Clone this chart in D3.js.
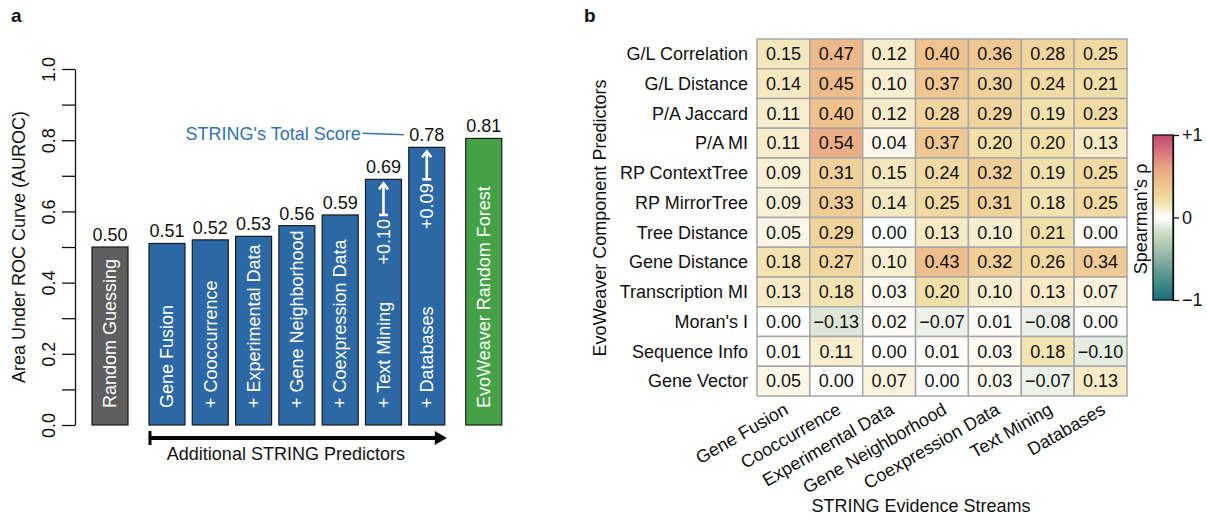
<!DOCTYPE html>
<html>
<head>
<meta charset="utf-8">
<script src="https://cdn.jsdelivr.net/npm/d3@7"></script>
<style>
body { margin: 0; background: #fff; }
text { font-family: "Liberation Sans", Arial, Helvetica, sans-serif; font-size: 18px; fill: #111; }
</style>
</head>
<body>
<svg id="fig" width="1207" height="521"></svg>
<script>
// panel a
var barLabels = ["Random Guessing", "Gene Fusion", "+ Cooccurrence", "+ Experimental Data", "+ Gene Neighborhood",
	"+ Coexpression Data", "+ Text Mining", "+ Databases", "EvoWeaver Random Forest"];
var barValues = [0.50, 0.51, 0.52, 0.53, 0.56, 0.59, 0.69, 0.78, 0.805];
var barGroups = ["baseline", "string", "string", "string", "string", "string", "string", "string", "evoweaver"];
var gainBars = ["+ Text Mining", "+ Databases"];
var gainLabels = ["+0.10", "+0.09"];
var yTicks = [0, 0.1, 0.2, 0.3, 0.4, 0.5, 0.6, 0.7, 0.8, 0.9, 1.0];
var yTickLabels = ["0.0", "", "0.2", "", "0.4", "", "0.6", "", "0.8", "", "1.0"];

// panel b
var streams = ["Gene Fusion", "Cooccurrence", "Experimental Data", "Gene Neighborhood", "Coexpression Data", "Text Mining", "Databases"];
var predictors = ["G/L Correlation", "G/L Distance", "P/A Jaccard", "P/A MI", "RP ContextTree", "RP MirrorTree",
	"Tree Distance", "Gene Distance", "Transcription MI", "Moran's I", "Sequence Info", "Gene Vector"];
var rhoValues = [
	[0.15, 0.47, 0.12, 0.40, 0.36, 0.28, 0.25],
	[0.14, 0.45, 0.10, 0.37, 0.30, 0.24, 0.21],
	[0.11, 0.40, 0.12, 0.28, 0.29, 0.19, 0.23],
	[0.11, 0.54, 0.04, 0.37, 0.20, 0.20, 0.13],
	[0.09, 0.31, 0.15, 0.24, 0.32, 0.19, 0.25],
	[0.09, 0.33, 0.14, 0.25, 0.31, 0.18, 0.25],
	[0.05, 0.29, 0.00, 0.13, 0.10, 0.21, 0.00],
	[0.18, 0.27, 0.10, 0.43, 0.32, 0.26, 0.34],
	[0.13, 0.18, 0.03, 0.20, 0.10, 0.13, 0.07],
	[0.00, -0.13, 0.02, -0.07, 0.01, -0.08, 0.00],
	[0.01, 0.11, 0.00, 0.01, 0.03, 0.18, -0.10],
	[0.05, 0.00, 0.07, 0.00, 0.03, -0.07, 0.13]
];
var legendTicks = [-1, 0, 1];
var legendTickLabels = ["\u22121", "0", "+1"];

var svg = d3.select("#fig");

svg.append("text").attr("x", 11).attr("y", 22).style("font-weight", "bold").style("font-size", "19px").text("a");
svg.append("text").attr("x", 584).attr("y", 22).style("font-weight", "bold").style("font-size", "19px").text("b");

/////// bars
var y = d3.scaleLinear().domain([0, 1]).range([425, 69]);
var slot = d3.scaleLinear().domain([0, 1]).range([92, 135.3]);
var groupOrder = ["baseline", "string", "evoweaver"];
var barColor = d3.scaleOrdinal().domain(groupOrder).range(["#5e5e5e", "#2c68a5", "#44a146"]);
var barW = 36;

function barX(i) {
	return slot(i + groupOrder.indexOf(barGroups[i]) * 0.316);
}

var yAxis = svg.append("g")
	.attr("transform", "translate(75,0)")
	.call(d3.axisLeft(y).tickValues(yTicks).tickSize(13).tickSizeOuter(0)
		.tickFormat(function(d, i) { return yTickLabels[i]; }));
yAxis.select(".domain").attr("stroke", "#111").attr("stroke-width", 1.3);
yAxis.selectAll(".tick line").attr("stroke", "#111").attr("stroke-width", 1.3);
yAxis.selectAll(".tick text")
	.attr("transform", "rotate(-90)")
	.attr("x", 0)
	.attr("y", -20)
	.attr("dy", 0)
	.attr("text-anchor", "middle")
	.style("font-size", "18px")
	.style("fill", "#111");

svg.append("text")
	.attr("transform", "translate(19,247) rotate(-90)")
	.attr("text-anchor", "middle")
	.attr("dy", ".35em")
	.text("Area Under ROC Curve (AUROC)");

svg.selectAll(".bar").data(barValues)
	.enter().append("rect")
	.attr("class", "bar")
	.attr("x", function(d, i) { return barX(i); })
	.attr("y", function(d) { return y(d); })
	.attr("width", barW)
	.attr("height", function(d) { return y(0) - y(d); })
	.attr("fill", function(d, i) { return barColor(barGroups[i]); })
	.attr("stroke", "#1a1a1a")
	.attr("stroke-width", 1.2);

svg.selectAll(".barval").data(barValues)
	.enter().append("text")
	.attr("class", "barval")
	.attr("x", function(d, i) { return barX(i) + barW / 2; })
	.attr("y", function(d) { return y(d) - 6; })
	.attr("text-anchor", "middle")
	.text(d3.format(".2f"));

svg.selectAll(".barname").data(barLabels)
	.enter().append("text")
	.attr("class", "barname")
	.attr("transform", function(d, i) { return "translate(" + (barX(i) + barW / 2) + "," + (y(0) - 17) + ") rotate(-90)"; })
	.attr("dy", ".35em")
	.style("fill", "#fff")
	.text(function(d) { return d; });

// gain arrows
gainBars.forEach(function(name, k) {
	var i = barLabels.indexOf(name);
	var cx = barX(i) + barW / 2;
	var base = y(barValues[i - 1]);
	var tip = y(barValues[i]) + 4;
	var g = svg.append("g").attr("stroke", "#fff").attr("stroke-width", 2.6).attr("fill", "none");
	g.append("line").attr("x1", cx).attr("x2", cx).attr("y1", base).attr("y2", tip);
	g.append("line").attr("x1", cx - 4.5).attr("x2", cx + 4.5).attr("y1", base).attr("y2", base);
	g.append("polyline").attr("points", [[cx - 4.5, tip + 6], [cx, tip], [cx + 4.5, tip + 6]].join(" "));
	svg.append("text")
		.attr("transform", "translate(" + cx + "," + (base + 4) + ") rotate(-90)")
		.attr("text-anchor", "end")
		.attr("dy", ".35em")
		.style("fill", "#fff")
		.text(gainLabels[k]);
});

// STRING total score callout
var iDb = barLabels.indexOf("+ Databases");
var dbLeft = barX(iDb);
var calloutY = y(barValues[iDb]) - 14;
svg.append("line")
	.attr("x1", dbLeft - 46).attr("y1", calloutY)
	.attr("x2", dbLeft - 5).attr("y2", calloutY + 1.5)
	.attr("stroke", "#3572b0").attr("stroke-width", 1.5);
svg.append("text")
	.attr("x", dbLeft - 48)
	.attr("y", calloutY)
	.attr("dy", ".35em")
	.attr("text-anchor", "end")
	.style("fill", "#3572b0")
	.text("STRING's Total Score");

// bracket under the STRING bars
var bx1 = barX(1), bx2 = barX(iDb) + barW, by = 438;
svg.append("line").attr("x1", bx1).attr("x2", bx2 - 6).attr("y1", by).attr("y2", by)
	.attr("stroke", "#000").attr("stroke-width", 4);
svg.append("line").attr("x1", bx1 + 1).attr("x2", bx1 + 1).attr("y1", by - 7).attr("y2", by + 7)
	.attr("stroke", "#000").attr("stroke-width", 3);
svg.append("polygon")
	.attr("points", [[bx2 + 2, by], [bx2 - 10, by - 7], [bx2 - 10, by + 7]].join(" "))
	.attr("fill", "#000");
svg.append("text")
	.attr("x", (bx1 + bx2) / 2 - 11)
	.attr("y", 460)
	.attr("text-anchor", "middle")
	.text("Additional STRING Predictors");

/////// heatmap
var hx = d3.scaleBand().domain(streams).range([757, 1127]);
var hy = d3.scaleBand().domain(predictors).range([39, 396]);

var z = d3.scaleLinear()
	.domain([-1, -0.8, -0.6, -0.4, -0.2, 0, 0.05, 0.2, 0.4, 0.6, 0.8, 1])
	.range(["#16707c", "#3f8a88", "#6fa39a", "#a2bfab", "#cbdac2", "#ffffff", "#fbf6e6", "#f2e0a8", "#efc28e", "#eaa583", "#d9727a", "#bf4a6a"])
	.interpolate(d3.interpolateLab);

var cells = [];
rhoValues.forEach(function(row, r) {
	row.forEach(function(v, c) {
		cells.push({ row: predictors[r], col: streams[c], value: v });
	});
});

svg.selectAll(".cell").data(cells)
	.enter().append("rect")
	.attr("class", "cell")
	.attr("x", function(d) { return hx(d.col); })
	.attr("y", function(d) { return hy(d.row); })
	.attr("width", hx.bandwidth())
	.attr("height", hy.bandwidth())
	.attr("fill", function(d) { return z(d.value); })
	.attr("stroke", "#a8a8a8")
	.attr("stroke-width", 1.5);

svg.selectAll(".cellval").data(cells)
	.enter().append("text")
	.attr("class", "cellval")
	.attr("x", function(d) { return hx(d.col) + hx.bandwidth() / 2; })
	.attr("y", function(d) { return hy(d.row) + hy.bandwidth() / 2; })
	.attr("dy", ".35em")
	.attr("text-anchor", "middle")
	.text(function(d) { return d3.format(".2f")(d.value); });

svg.selectAll(".rowlab").data(predictors)
	.enter().append("text")
	.attr("class", "rowlab")
	.attr("x", 748)
	.attr("y", function(d) { return hy(d) + hy.bandwidth() / 2; })
	.attr("dy", ".35em")
	.attr("text-anchor", "end")
	.text(function(d) { return d; });

svg.selectAll(".collab").data(streams)
	.enter().append("text")
	.attr("class", "collab")
	.attr("transform", function(d) { return "translate(" + (hx(d) + hx.bandwidth() / 2 + 6) + ",413) rotate(-30)"; })
	.attr("text-anchor", "end")
	.text(function(d) { return d; });

svg.append("text")
	.attr("transform", "translate(600,218) rotate(-90)")
	.attr("text-anchor", "middle")
	.attr("dy", ".35em")
	.text("EvoWeaver Component Predictors");

svg.append("text")
	.attr("x", 921)
	.attr("y", 512)
	.attr("text-anchor", "middle")
	.text("STRING Evidence Streams");

/////// colour legend
var ly = d3.scaleLinear().domain([-1, 1]).range([300, 135]);
var grad = svg.append("defs").append("linearGradient")
	.attr("id", "rhoGrad")
	.attr("x1", 0).attr("y1", 1).attr("x2", 0).attr("y2", 0);
grad.selectAll("stop").data(d3.range(0, 1.0001, 0.05))
	.enter().append("stop")
	.attr("offset", function(d) { return d; })
	.attr("stop-color", function(d) { return z(d * 2 - 1); });

svg.append("rect")
	.attr("x", 1153).attr("y", ly(1))
	.attr("width", 20).attr("height", ly(-1) - ly(1))
	.attr("fill", "url(#rhoGrad)")
	.attr("stroke", "#111").attr("stroke-width", 1.3);

var lAxis = svg.append("g")
	.attr("transform", "translate(1173,0)")
	.call(d3.axisRight(ly).tickValues(legendTicks).tickSize(6).tickSizeOuter(0)
		.tickFormat(function(d, i) { return legendTickLabels[i]; }));
lAxis.select(".domain").attr("stroke", "#111").attr("stroke-width", 1.3);
lAxis.selectAll(".tick line").attr("stroke", "#111").attr("stroke-width", 1.3);
lAxis.selectAll(".tick text").style("font-size", "18px").style("fill", "#111");

svg.append("text")
	.attr("transform", "translate(1141,219) rotate(-90)")
	.attr("text-anchor", "middle")
	.attr("dy", ".35em")
	.text("Spearman's \u03c1");
</script>
</body>
</html>
